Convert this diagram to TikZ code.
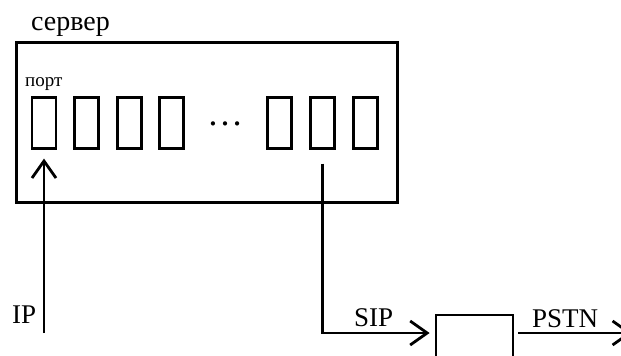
\documentclass[tikz,border=0pt]{standalone}
\usepackage{fontspec}
\setmainfont{Liberation Serif}
\usetikzlibrary{arrows.meta}
\tikzset{
  portbox/.style={draw, line width=2.8pt, minimum width=24pt, minimum height=51pt, inner sep=0pt},
  lbl/.style={inner sep=0pt, anchor=base west, font=\fontsize{27}{27}\selectfont},
  conn/.style={line width=2.8pt},
  arr/.style={conn, -{Straight Barb[length=17pt,width=24pt]}},
}
\begin{document}
\begin{tikzpicture}[x=1pt,y=-1pt]
\useasboundingbox (0,0) rectangle (621,356);
% server box
\node[draw, line width=3pt, minimum width=381pt, minimum height=160pt, inner sep=0pt] (server) at (206.5,122) {};
\node[lbl, font=\fontsize{28}{28}\selectfont] (srvlbl) at (31,30) {сервер};
\node[lbl, font=\fontsize{19}{19}\selectfont] (portlbl) at (25,86) {порт};
% ports
\node[portbox] (p1) at (44,122.7) {};
\node[portbox] (p2) at (86.5,122.7) {};
\node[portbox] (p3) at (129.5,122.7) {};
\node[portbox] (p4) at (171.5,122.7) {};
\node[inner sep=0pt, font=\fontsize{36}{36}\selectfont] (dots) at (225,124) {…};
\node[portbox] (p5) at (279.5,122.7) {};
\node[portbox] (p6) at (322.5,122.7) {};
\node[portbox] (p7) at (365.5,122.7) {};
% gateway box
\node[draw, line width=2.8pt, minimum width=77pt, minimum height=70pt, inner sep=0pt] (gw) at (474.5,350) {};
% coordinates
\coordinate (ipin) at (44,333);
\coordinate (corner) at (322.5,333);
\coordinate (pstnout) at (632,333);
% connectors
\draw[arr, shorten >=9pt] (ipin) -- (p1.south);
\draw[arr, shorten <=14pt, shorten >=5pt] (p6.south) -- (corner) -- (corner -| gw.west);
\draw[arr, shorten <=4pt] (corner -| gw.east) -- (pstnout);
% labels
\node[lbl] (iplbl) at (12,323) {IP};
\node[lbl] (siplbl) at (354,326) {SIP};
\node[lbl] (pstnlbl) at (532,327) {PSTN};
\end{tikzpicture}
\end{document}
